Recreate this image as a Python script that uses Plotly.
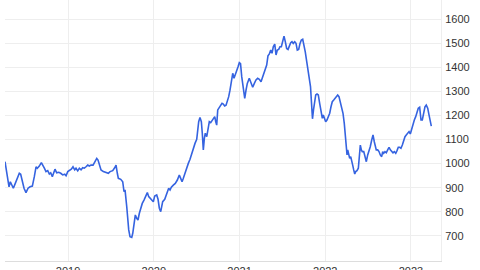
import plotly.graph_objects as go

years = [
    2018.265, 2018.277, 2018.292, 2018.312, 2018.327, 2018.347, 2018.362, 2018.385, 2018.409, 2018.432,
    2018.448, 2018.467, 2018.487, 2018.510, 2018.534, 2018.557, 2018.584, 2018.607, 2018.627, 2018.642,
    2018.665, 2018.689, 2018.705, 2018.724, 2018.743, 2018.763, 2018.782, 2018.798, 2018.817, 2018.833,
    2018.848, 2018.868, 2018.892, 2018.915, 2018.938, 2018.962, 2018.977, 2018.997, 2019.015, 2019.038,
    2019.058, 2019.078, 2019.093, 2019.113, 2019.132, 2019.152, 2019.171, 2019.190, 2019.210, 2019.230,
    2019.248, 2019.268, 2019.292, 2019.311, 2019.335, 2019.350, 2019.365, 2019.385, 2019.412, 2019.443,
    2019.470, 2019.490, 2019.521, 2019.548, 2019.560, 2019.575, 2019.587, 2019.615, 2019.638, 2019.653,
    2019.665, 2019.685, 2019.696, 2019.708, 2019.723, 2019.743, 2019.755, 2019.770, 2019.785, 2019.801,
    2019.816, 2019.832, 2019.848, 2019.866, 2019.886, 2019.910, 2019.925, 2019.941, 2019.956, 2019.980,
    2019.995, 2020.011, 2020.034, 2020.050, 2020.065, 2020.081, 2020.093, 2020.104, 2020.128, 2020.143,
    2020.158, 2020.174, 2020.190, 2020.205, 2020.228, 2020.251, 2020.275, 2020.298, 2020.314, 2020.330,
    2020.345, 2020.368, 2020.384, 2020.403, 2020.423, 2020.443, 2020.461, 2020.481, 2020.501, 2020.513,
    2020.524, 2020.539, 2020.555, 2020.566, 2020.578, 2020.590, 2020.601, 2020.618, 2020.633, 2020.648,
    2020.664, 2020.679, 2020.695, 2020.711, 2020.723, 2020.734, 2020.746, 2020.761, 2020.781, 2020.796,
    2020.811, 2020.827, 2020.843, 2020.858, 2020.874, 2020.889, 2020.904, 2020.921, 2020.936, 2020.951,
    2020.967, 2020.983, 2020.998, 2021.012, 2021.026, 2021.044, 2021.061, 2021.076, 2021.091, 2021.114,
    2021.134, 2021.154, 2021.173, 2021.192, 2021.212, 2021.231, 2021.251, 2021.271, 2021.286, 2021.301,
    2021.317, 2021.332, 2021.348, 2021.364, 2021.379, 2021.394, 2021.411, 2021.426, 2021.441, 2021.457,
    2021.472, 2021.488, 2021.504, 2021.519, 2021.534, 2021.550, 2021.566, 2021.581, 2021.597, 2021.612,
    2021.627, 2021.644, 2021.659, 2021.674, 2021.690, 2021.706, 2021.721, 2021.737, 2021.752, 2021.767,
    2021.784, 2021.799, 2021.814, 2021.828, 2021.840, 2021.851, 2021.863, 2021.875, 2021.889, 2021.904,
    2021.919, 2021.935, 2021.950, 2021.966, 2021.977, 2021.989, 2022.005, 2022.020, 2022.036, 2022.052,
    2022.067, 2022.082, 2022.099, 2022.114, 2022.129, 2022.145, 2022.160, 2022.176, 2022.192, 2022.207,
    2022.222, 2022.234, 2022.246, 2022.254, 2022.262, 2022.274, 2022.285, 2022.297, 2022.309, 2022.320,
    2022.332, 2022.344, 2022.355, 2022.370, 2022.386, 2022.397, 2022.409, 2022.421, 2022.432, 2022.449,
    2022.464, 2022.479, 2022.495, 2022.510, 2022.525, 2022.542, 2022.557, 2022.572, 2022.584, 2022.595,
    2022.612, 2022.627, 2022.642, 2022.658, 2022.670, 2022.682, 2022.697, 2022.712, 2022.728, 2022.744,
    2022.759, 2022.775, 2022.790, 2022.805, 2022.822, 2022.837, 2022.852, 2022.868, 2022.883, 2022.899,
    2022.915, 2022.930, 2022.945, 2022.962, 2022.977, 2022.992, 2023.008, 2023.023, 2023.039, 2023.055,
    2023.070, 2023.085, 2023.101, 2023.117, 2023.132, 2023.148, 2023.163, 2023.178, 2023.195, 2023.210,
    2023.225, 2023.237,
]

values = [
    1008, 981, 960, 904, 925, 911, 898, 918, 939, 960,
    956, 925, 898, 880, 898, 904, 907, 946, 987, 981,
    990, 1004, 990, 981, 967, 971, 957, 962, 946, 967,
    977, 962, 964, 960, 953, 956, 950, 967, 971, 977,
    987, 974, 981, 970, 981, 974, 983, 981, 987, 994,
    990, 994, 994, 1004, 1022, 1015, 994, 974, 967, 962,
    960, 967, 971, 985, 994, 960, 939, 935, 925, 884,
    891, 821, 766, 725, 697, 694, 711, 759, 787, 773,
    766, 794, 815, 835, 849, 870, 880, 863, 856, 849,
    842, 866, 870, 852, 815, 801, 828, 842, 852, 870,
    884, 898, 891, 902, 911, 918, 932, 953, 939, 925,
    939, 967, 987, 1001, 1018, 1043, 1064, 1084, 1101, 1140,
    1174, 1192, 1174, 1126, 1057, 1105, 1126, 1112, 1147, 1174,
    1170, 1178, 1181, 1195, 1174, 1160, 1223, 1230, 1239, 1250,
    1247, 1239, 1242, 1257, 1278, 1305, 1333, 1375, 1354, 1368,
    1381, 1402, 1419, 1415, 1361, 1305, 1271, 1305, 1333, 1354,
    1333, 1317, 1333, 1347, 1354, 1350, 1340, 1361, 1381, 1391,
    1409, 1447, 1455, 1471, 1458, 1485, 1496, 1451, 1471, 1474,
    1485, 1485, 1513, 1529, 1506, 1478, 1474, 1488, 1502, 1506,
    1499, 1506, 1499, 1471, 1474, 1499, 1513, 1516, 1492, 1464,
    1423, 1381, 1361, 1320, 1250, 1186, 1223, 1264, 1285, 1289,
    1285, 1250, 1209, 1188, 1202, 1188, 1174, 1181, 1192, 1209,
    1236, 1257, 1264, 1271, 1281, 1285, 1278, 1250, 1230, 1209,
    1167, 1112, 1043, 1036, 1057, 1043, 1022, 1029, 1015, 994,
    974, 957, 967, 971, 981, 1036, 1077, 1057, 1050, 1050,
    1029, 1008, 1036, 1050, 1070, 1098, 1119, 1091, 1064, 1057,
    1057, 1050, 1036, 1029, 1050, 1043, 1050, 1045, 1057, 1068,
    1057, 1050, 1045, 1050, 1043, 1054, 1068, 1068, 1064, 1077,
    1101, 1112, 1119, 1128, 1133, 1123, 1147, 1167, 1181, 1195,
    1216, 1230, 1234, 1181, 1181, 1209, 1236, 1243, 1230, 1202,
    1174, 1156,
]

year_ticks = [2019, 2020, 2021, 2022, 2023]
year_labels = ["2019", "2020", "2021", "2022", "2023"]
y_ticks = [700, 800, 900, 1000, 1100, 1200, 1300, 1400, 1500, 1600]

fig = go.Figure()
fig.add_trace(go.Scatter(
    x=years, y=values, mode="lines",
    line=dict(color="#3563e0", width=1.6),
    hoverinfo="skip",
))

fig.update_layout(
    width=480, height=270,
    margin=dict(l=5, r=39, t=0, b=9),
    paper_bgcolor="white", plot_bgcolor="white",
    showlegend=False,
    font=dict(family="Liberation Sans, Arial, sans-serif", size=11, color="#333333"),
)
fig.update_xaxes(
    range=[2018.265, 2023.350],
    tickmode="array", tickvals=year_ticks, ticktext=year_labels,
    showgrid=True, gridcolor="#eeeeee", gridwidth=1,
    showline=True, linecolor="#dddddd", linewidth=1,
    zeroline=False, ticks="", automargin=False,
)
fig.update_yaxes(
    range=[596, 1679], side="right",
    tickmode="array", tickvals=y_ticks,
    showgrid=True, gridcolor="#eeeeee", gridwidth=1,
    showline=True, linecolor="#eeeeee", linewidth=1,
    zeroline=False, ticks="", ticklabelstandoff=1, automargin=False,
)

fig.write_html("out.html")
